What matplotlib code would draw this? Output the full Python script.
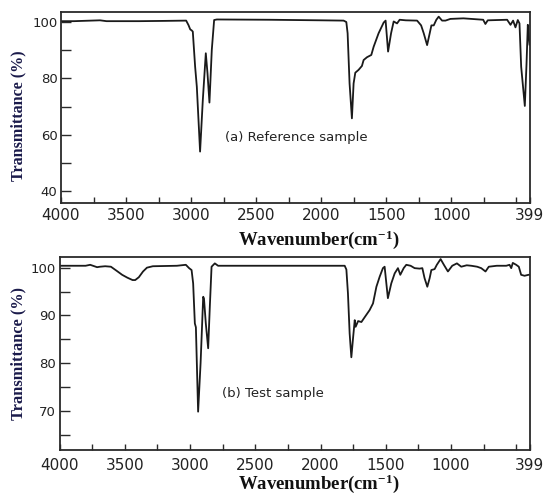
import matplotlib
matplotlib.use("Agg")
import matplotlib.pyplot as plt
from matplotlib.ticker import FixedLocator, FixedFormatter

plt.rcParams["mathtext.fontset"] = "custom"
plt.rcParams["mathtext.rm"] = "Liberation Serif:bold"
plt.rcParams["mathtext.bf"] = "Liberation Serif:bold"
plt.rcParams["mathtext.it"] = "Liberation Serif:bold"

# ---------------- data ----------------
# (a) Reference sample: wavenumber (cm-1) / transmittance (%)
ref_wn = [4000, 3900, 3700, 3650, 3400, 3200, 3038, 3020, 3007, 2995, 2987,
          2969, 2956, 2931, 2910, 2887, 2874, 2859, 2841, 2823, 2802, 2400,
          2000, 1828, 1807, 1797, 1782, 1764, 1751, 1738, 1713, 1687, 1674,
          1648, 1615, 1597, 1559, 1520, 1505, 1486, 1463, 1443, 1417, 1397,
          1350, 1263, 1232, 1212, 1186, 1166, 1153, 1135, 1115, 1097, 1071,
          1045, 1007, 907, 755, 738, 720, 571, 545, 525, 507, 489, 476, 463,
          435, 422, 412, 405, 399]
ref_tr = [100.3, 100.3, 100.6, 100.3, 100.3, 100.4, 100.5, 98.9, 97.4, 97.0, 96.6,
          84.1, 77.0, 54.0, 72.3, 88.9, 81.8, 71.4, 90.1, 100.7, 100.9, 100.8,
          100.6, 100.5, 100.0, 96.0, 78.2, 65.8, 78.2, 82.0, 83.0, 84.4, 86.5,
          87.5, 88.3, 91.2, 96.0, 99.8, 100.5, 89.5, 96.0, 100.2, 99.5, 100.8,
          100.6, 100.5, 98.8, 96.0, 91.8, 96.0, 98.8, 98.8, 100.8, 101.9, 100.5,
          100.5, 101.1, 101.3, 100.8, 99.3, 100.6, 100.8, 99.0, 100.5, 98.1, 100.7, 99.5, 84.1,
          70.2, 85.0, 99.0, 95.0, 92.0]

# (b) Test sample
test_wn = [4000, 3800, 3765, 3712, 3690, 3650, 3606, 3560, 3520, 3480, 3440,
           3420, 3392, 3360, 3330, 3285, 3100, 3032, 3007, 2988, 2976, 2963, 2955, 2938,
           2919, 2899, 2893, 2879, 2861, 2848, 2835, 2810, 2785, 2400, 2000,
           1815, 1802, 1790, 1777, 1764, 1751, 1738, 1731, 1712, 1687, 1662,
           1624, 1598, 1572, 1547, 1522, 1509, 1484, 1458, 1432, 1407, 1389,
           1363, 1343, 1310, 1279, 1241, 1220, 1203, 1182, 1164, 1151, 1126,
           1109, 1080, 1055, 1024, 991, 955, 922, 880, 845, 800, 769, 736,
           711, 650, 577, 552, 539, 527, 501, 481, 463, 437, 407, 399]
test_tr = [100.4, 100.4, 100.6, 100.1, 100.2, 100.3, 100.2, 99.3, 98.5, 97.9, 97.4,
           97.4, 98.0, 99.2, 100.0, 100.3, 100.4, 100.6, 99.9, 99.5, 96.7, 88.3, 87.5, 69.8,
           80.0, 93.9, 93.5, 88.3, 83.1, 92.0, 100.2, 100.9, 100.4, 100.4, 100.4,
           100.4, 99.6, 94.6, 86.2, 81.2, 85.2, 89.0, 87.6, 88.8, 88.6, 89.6,
           91.1, 92.5, 96.0, 98.1, 99.9, 100.2, 93.6, 96.7, 98.8, 99.9, 98.5,
           99.9, 100.6, 100.4, 99.9, 99.8, 99.9, 97.8, 96.0, 97.8, 99.5, 99.7,
           100.6, 101.8, 100.6, 99.2, 100.4, 100.9, 100.2, 100.5, 100.4, 100.2, 99.9, 99.2,
           100.2, 100.4, 100.4, 100.6, 99.9, 101.0, 100.6, 100.2, 98.5, 98.3, 98.5, 98.5]

x_major = [4000, 3500, 3000, 2500, 2000, 1500, 1000, 399]
x_labels = ["4000", "3500", "3000", "2500", "2000", "1500", "1000", "399"]
x_minor = [3750, 3250, 2750, 2250, 1750, 1250, 750, 500]

ref_yticks = [40, 60, 80, 100]
ref_yminor = [50, 70, 90]
test_yticks = [70, 80, 90, 100]
test_yminor = [65, 75, 85, 95]

ylabel = "Transmittance (%)"
xlabel = r"Wavenumber(cm$^{-1}$)"
label_a = "(a) Reference sample"
label_b = "(b) Test sample"

# ---------------- figure ----------------
W, H = 547, 495
fig = plt.figure(figsize=(W / 100, H / 100), dpi=100)


def ax_rect(left, right, top, bottom):
    return [left / W, 1 - bottom / H, (right - left) / W, (bottom - top) / H]


line_col = "#1a1a1a"
spine_col = "#2a2a2a"
lab_col = "#1a1a4a"


def style(ax, yt, ym, xpad):
    ax.set_xlim(4000, 399)
    for s in ax.spines.values():
        s.set_color(spine_col)
        s.set_linewidth(1.3)
    ax.xaxis.set_major_locator(FixedLocator(x_major))
    ax.xaxis.set_major_formatter(FixedFormatter(x_labels))
    ax.xaxis.set_minor_locator(FixedLocator(x_minor))
    ax.yaxis.set_major_locator(FixedLocator(yt))
    ax.yaxis.set_minor_locator(FixedLocator(ym))
    ax.tick_params(axis="x", which="both", direction="in", length=4.5, width=1.0,
                   color=spine_col, top=False, labelsize=11, pad=xpad,
                   labelcolor="#222222")
    ax.tick_params(axis="y", which="both", direction="in", length=7, width=1.0,
                   color=spine_col, right=False, labelsize=9.5, pad=2.5,
                   labelcolor="#222222")


# Top panel
ax1 = fig.add_axes(ax_rect(61, 529.5, 11.7, 203))
ax1.plot(ref_wn, ref_tr, color=line_col, lw=1.3, solid_joinstyle="round")
ax1.set_ylim(35.74, 103.66)
style(ax1, ref_yticks, ref_yminor, 3.5)
ax1.text(225 / W, 1 - 137 / H, label_a, transform=fig.transFigure,
         fontsize=9.5, color="#222222", va="center", ha="left")

# Bottom panel
ax2 = fig.add_axes(ax_rect(59.5, 529.5, 256.7, 450))
ax2.plot(test_wn, test_tr, color=line_col, lw=1.3, solid_joinstyle="round")
ax2.set_ylim(61.76, 102.3)
style(ax2, test_yticks, test_yminor, 6)
ax2.text(222 / W, 1 - 394 / H, label_b, transform=fig.transFigure,
         fontsize=9.5, color="#222222", va="center", ha="left")

# Axis labels
serif = ["Liberation Serif", "DejaVu Serif"]
fig.text(18 / W, 1 - 116 / H, ylabel, rotation=90, ha="center", va="center",
         fontsize=11.6, fontweight="bold", family=serif, color=lab_col)
fig.text(18 / W, 1 - 354 / H, ylabel, rotation=90, ha="center", va="center",
         fontsize=11.8, fontweight="bold", family=serif, color=lab_col)
fig.text(318.5 / W, 1 - 240 / H, xlabel, ha="center", va="center",
         fontsize=13.5, fontweight="bold", family=serif, color="#111111")
fig.text(318.5 / W, 1 - 484 / H, xlabel, ha="center", va="center",
         fontsize=13.5, fontweight="bold", family=serif, color="#111111")

fig.savefig("out.png", dpi=100, facecolor="white")
